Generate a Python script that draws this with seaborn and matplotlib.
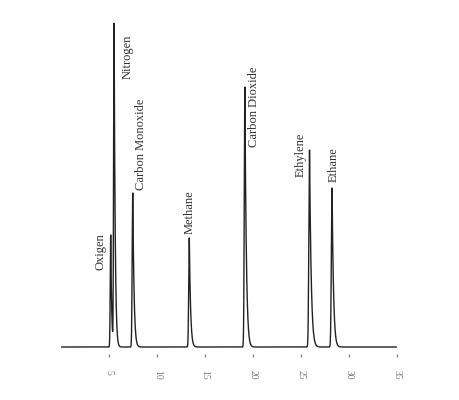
import numpy as np
import pandas as pd
import matplotlib
matplotlib.use("Agg")
import matplotlib.pyplot as plt
import seaborn as sns

# peak table (retention time in min, height in detector units)
compounds = ['Oxigen', 'Nitrogen', 'Carbon Monoxide', 'Methane',
             'Carbon Dioxide', 'Ethylene', 'Ethane']
retention = [5.15, 5.5, 7.45, 13.35, 19.15, 25.9, 28.25]
heights = [112, 322, 154, 109, 260, 197, 159]
rise = [0.05, 0.05, 0.06, 0.06, 0.06, 0.07, 0.07]
tail = [0.10, 0.12, 0.14, 0.14, 0.16, 0.18, 0.16]

# label anchors (x in min, y in detector units) and alignment
label_x = [4.75, 6.3, 7.7, 13.43, 19.45, 25.65, 28.45]
label_y = [114, 312, 157, 113, 280, 214, 165]
label_ha = ['right', 'left', 'left', 'center', 'left', 'right', 'center']
label_va = ['top', 'top', 'bottom', 'bottom', 'top', 'top', 'bottom']

xticks = [5, 10, 15, 20, 25, 30, 35]


def peak(t, t0, h, s, tau):
    # sharp front, exponential tail
    d = t - t0
    front = np.exp(-0.5 * (d / s) ** 2)
    back = np.exp(-d / tau) * np.exp(-0.5 * (d / (3 * tau)) ** 2)
    return h * np.where(d < 0, front, back)


t = np.linspace(0, 35, 7001)
signal = np.zeros_like(t)
for t0, h, s, tau in zip(retention, heights, rise, tail):
    signal += peak(t, t0, h, s, tau)
df = pd.DataFrame({'time': t, 'signal': signal})

sns.set_theme(style="white")
plt.rcParams['font.family'] = ['Liberation Serif', 'DejaVu Serif']

fig = plt.figure(figsize=(4.6, 4.0), dpi=100)
ax = fig.add_axes([61.4 / 460, 46 / 400, 335.3 / 460, 350 / 400])
sns.lineplot(data=df, x='time', y='signal', ax=ax, color='#222222', linewidth=1.0)

for name, x, y, ha, va in zip(compounds, label_x, label_y, label_ha, label_va):
    ax.text(x, y, name, rotation=90, ha=ha, va=va, fontsize=9, color='#333333')

ax.set_xlim(0, 35)
ax.set_ylim(-7, 343)
ax.set_xticks(xticks)
ax.set_xticklabels([str(v) for v in xticks], rotation=-90, fontsize=7, color='#777777')
ax.tick_params(axis='x', bottom=True, direction='out', length=2.5, width=0.8,
               color='#777777', pad=9)
ax.set_yticks([])
ax.set_xlabel('')
ax.set_ylabel('')
for sp in ax.spines.values():
    sp.set_visible(False)

fig.savefig('out.png', dpi=100)
